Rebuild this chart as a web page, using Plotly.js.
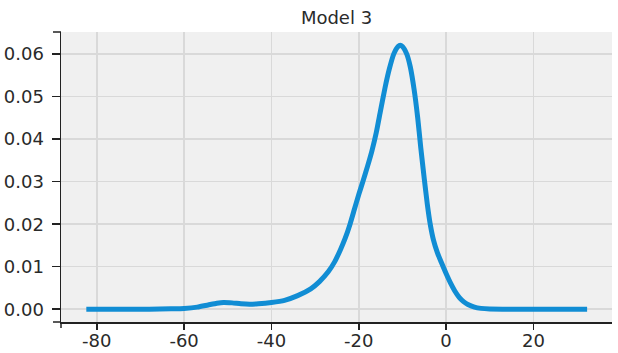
<!DOCTYPE html>
<html>
<head>
<meta charset="utf-8">
<script src="https://cdn.plot.ly/plotly-3.0.1.min.js"></script>
<style>html,body{margin:0;padding:0;background:#fff;}#chart{width:618px;height:353px;}</style>
</head>
<body>
<div id="chart"></div>
<script>
// Density curve for Model 3
var xValues = [-82.4, -75, -68, -63, -60, -57, -54.5, -52.5, -51, -49, -47, -45, -43, -40, -37, -34, -31, -29, -27, -25.5, -24.2, -23.1, -22, -21, -20, -19, -18, -17, -16, -15, -14, -13, -12, -11, -10.5, -10, -9, -8.2, -7.3, -6.5, -5.8, -5.0, -4.3, -3.6, -2.9, -2.0, -1.0, 0, 1, 2, 3, 4, 5, 6.5, 8, 10, 15, 25, 32.3];
var densityValues = [0, 0, 0, 0.0001, 0.0002, 0.0005, 0.0010, 0.0014, 0.0016, 0.0015, 0.0013, 0.0012, 0.0013, 0.0016, 0.0021, 0.0032, 0.0048, 0.0065, 0.0088, 0.0112, 0.0140, 0.0167, 0.0200, 0.0235, 0.0270, 0.0302, 0.0336, 0.0372, 0.0415, 0.0468, 0.0520, 0.0565, 0.0600, 0.0618, 0.0621, 0.0618, 0.0600, 0.0570, 0.0515, 0.0450, 0.0380, 0.0307, 0.0247, 0.0198, 0.0163, 0.0133, 0.0108, 0.0084, 0.0062, 0.0043, 0.0028, 0.0018, 0.0011, 0.0005, 0.0002, 0.00005, 0, 0, 0];
var xTicks = [-80, -60, -40, -20, 0, 20];
var yTicks = [0.00, 0.01, 0.02, 0.03, 0.04, 0.05, 0.06];
var chartTitle = "Model 3";

var font = "DejaVu Sans, sans-serif";
var trace = {
  x: xValues, y: densityValues, type: 'scatter', mode: 'lines',
  line: {color: '#118dd4', width: 5, shape: 'spline', smoothing: 0.6},
  hoverinfo: 'skip'
};
var capStyle = {color: '#222', width: 1.5};
var layout = {
  width: 618, height: 353,
  margin: {l: 61, r: 6, t: 32, b: 31, pad: 0},
  paper_bgcolor: '#ffffff', plot_bgcolor: '#f0f0f0',
  showlegend: false,
  title: {text: chartTitle, x: 0.5, xref: 'paper', xanchor: 'center', y: 0.951, yref: 'container', yanchor: 'middle',
          font: {family: font, size: 18, color: '#2a2a2a'}},
  xaxis: {
    range: [-88.2, 38.0], tickvals: xTicks, ticktext: xTicks.map(String),
    showgrid: true, gridcolor: '#d9d9d9', gridwidth: 1.5, zeroline: false,
    showline: true, linecolor: '#222', linewidth: 1.5,
    ticks: 'outside', ticklen: 6, tickwidth: 1.5, tickcolor: '#222',
    ticklabelstandoff: -4,
    tickfont: {family: font, size: 18, color: '#2a2a2a'}
  },
  yaxis: {
    range: [-0.003, 0.0652], tickvals: yTicks, ticktext: yTicks.map(function(v){return v.toFixed(2);}),
    showgrid: true, gridcolor: '#d9d9d9', gridwidth: 1.5, zeroline: false,
    showline: true, linecolor: '#222', linewidth: 1.5,
    ticks: 'outside', ticklen: 8, tickwidth: 1.5, tickcolor: '#222',
    ticklabelstandoff: 4,
    tickfont: {family: font, size: 18, color: '#2a2a2a'}
  },
  shapes: [
    {type: 'line', xref: 'paper', yref: 'paper', xsizemode: 'pixel', xanchor: 0, x0: -8, x1: 0, y0: 1, y1: 1, line: capStyle},
    {type: 'line', xref: 'paper', yref: 'paper', xsizemode: 'pixel', xanchor: 0, x0: -8, x1: 0, y0: 0, y1: 0, line: capStyle},
    {type: 'line', xref: 'paper', yref: 'paper', ysizemode: 'pixel', yanchor: 0, y0: 0, y1: -6, x0: 0, x1: 0, line: capStyle}
  ]
};
Plotly.newPlot('chart', [trace], layout, {displayModeBar: false, staticPlot: true});
</script>
</body>
</html>
